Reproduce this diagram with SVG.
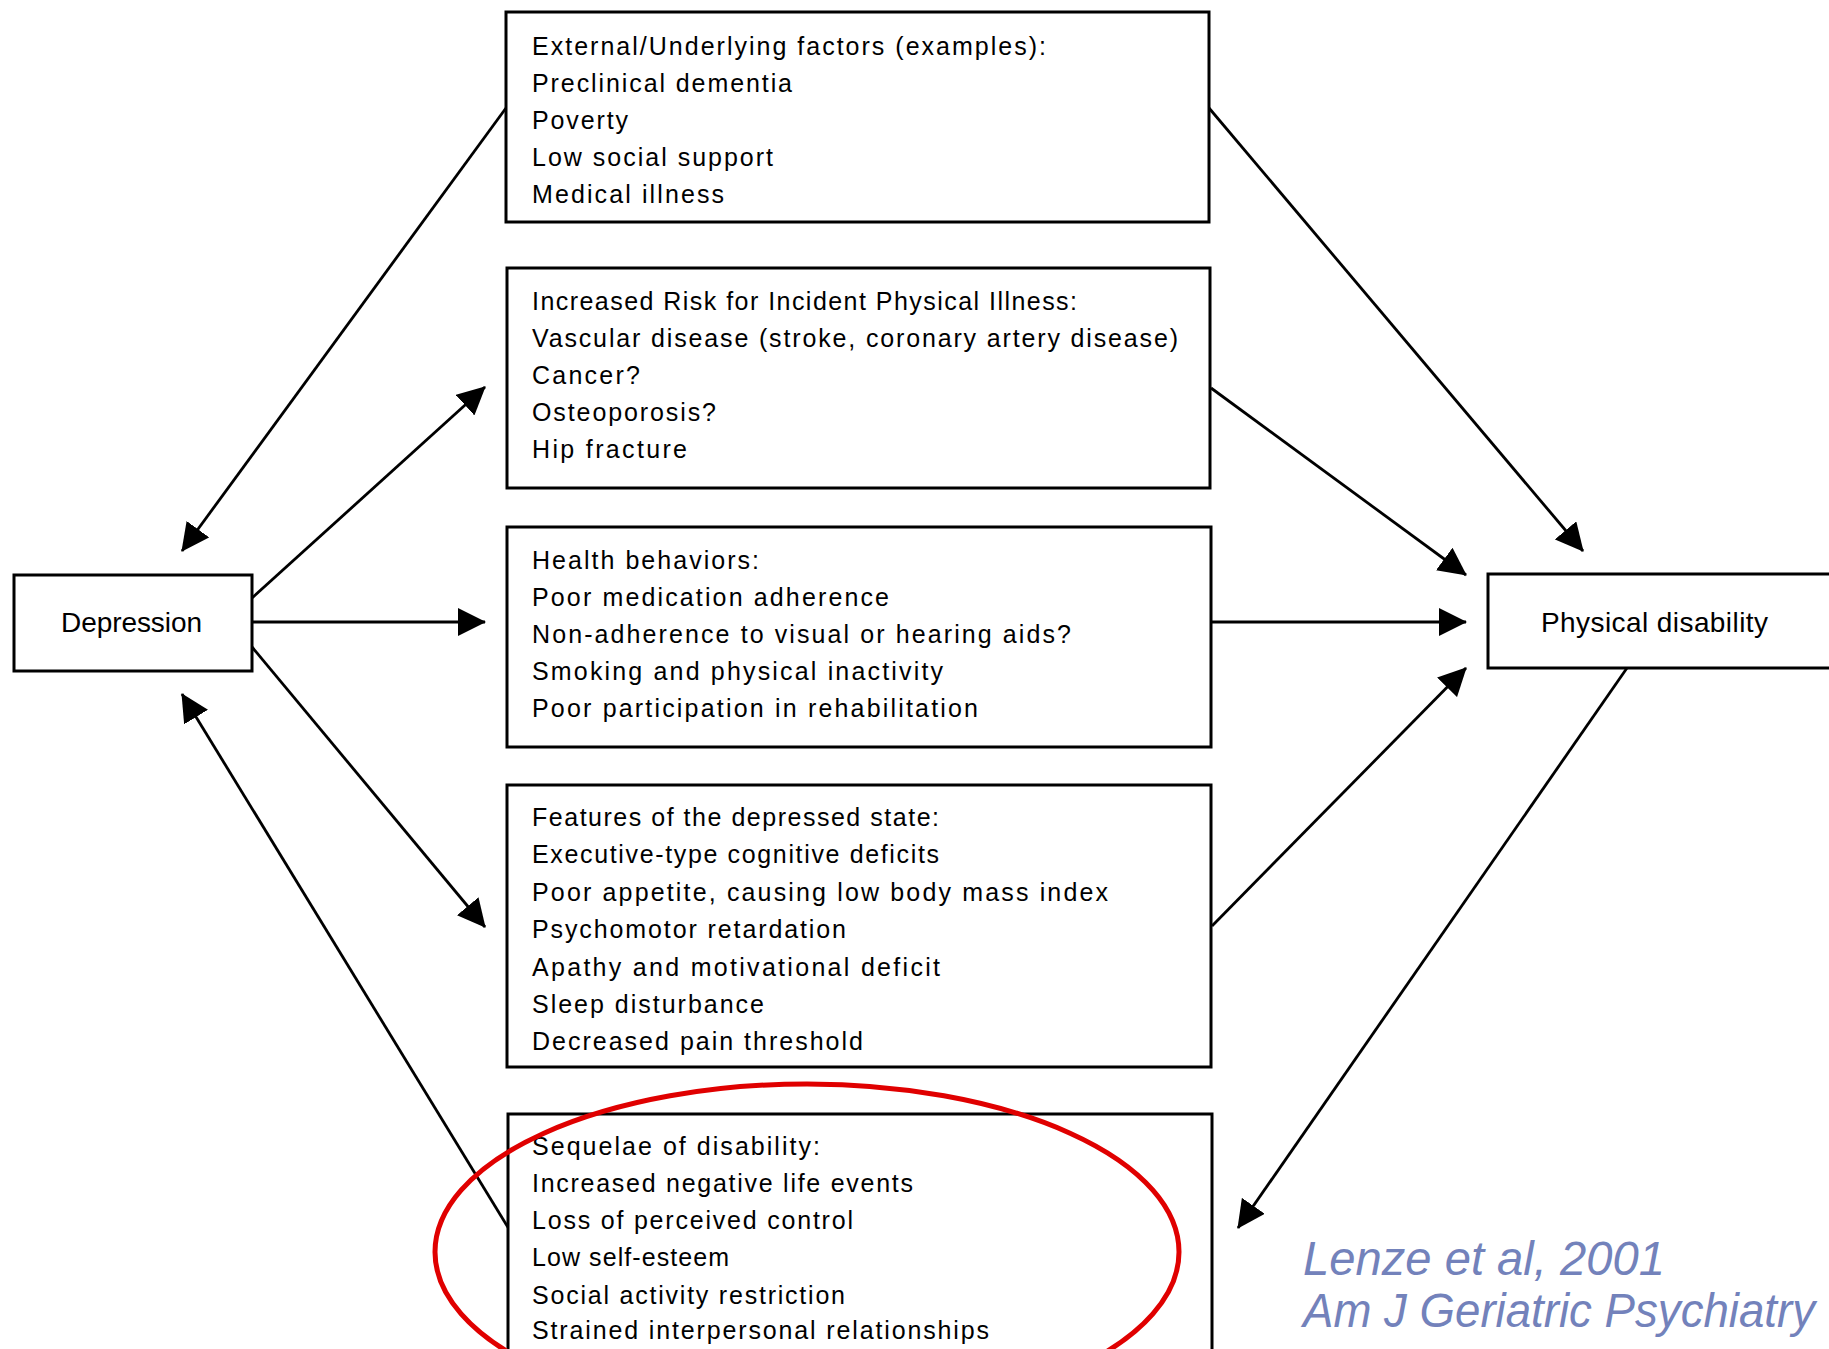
<svg xmlns="http://www.w3.org/2000/svg" width="1829" height="1349" viewBox="0 0 1829 1349">
<style>
.box{fill:#ffffff;stroke:#000;stroke-width:3}
.t{font-family:"Liberation Sans",Arial,sans-serif;font-size:25px;fill:#000}
.n{font-family:"Liberation Sans",Arial,sans-serif;font-size:28px;fill:#000}
.c{stroke:#000;stroke-width:2.8;fill:none;marker-end:url(#ah)}
.cite{font-family:"Liberation Sans",Arial,sans-serif;font-style:italic;font-size:48px;fill:#7382bb}
</style>
<defs>
<marker id="ah" viewBox="0 0 28 28" refX="27" refY="14" markerWidth="28" markerHeight="28" markerUnits="userSpaceOnUse" orient="auto">
<path d="M0,0 L28,14 L0,28 z" fill="#000"/>
</marker>
</defs>
<rect width="1829" height="1349" fill="#fff"/>
<g id="connectors">
<path class="c" d="M506,108 L182,551"/>
<path class="c" d="M252,598 L485,387"/>
<path class="c" d="M252,622 L485,622"/>
<path class="c" d="M252,647 L485,927"/>
<path class="c" d="M509,1229 L182,694"/>
<path class="c" d="M1209,108 L1583,551"/>
<path class="c" d="M1211,388 L1466,575"/>
<path class="c" d="M1211,622 L1466,622"/>
<path class="c" d="M1212,926 L1466,668"/>
<path class="c" d="M1627,668 L1238,1228"/>
</g>
<g id="depression">
<rect class="box" x="14" y="575" width="238" height="96"/>
<text class="n" x="61" y="632" textLength="141" lengthAdjust="spacing">Depression</text>
</g>
<g id="physical-disability">
<rect class="box" x="1488" y="574" width="360" height="94"/>
<text class="n" x="1541" y="632" textLength="227" lengthAdjust="spacing">Physical disability</text>
</g>
<g id="external-factors">
<rect class="box" x="506" y="12" width="703" height="210"/>
<text class="t" x="532" y="55" textLength="514" lengthAdjust="spacing">External/Underlying factors (examples):</text>
<text class="t" x="532" y="92" textLength="260" lengthAdjust="spacing">Preclinical dementia</text>
<text class="t" x="532" y="129" textLength="96" lengthAdjust="spacing">Poverty</text>
<text class="t" x="532" y="166" textLength="241" lengthAdjust="spacing">Low social support</text>
<text class="t" x="532" y="203" textLength="192" lengthAdjust="spacing">Medical illness</text>
</g>
<g id="physical-illness">
<rect class="box" x="507" y="268" width="703" height="220"/>
<text class="t" x="532" y="310" textLength="545" lengthAdjust="spacing">Increased Risk for Incident Physical Illness:</text>
<text class="t" x="532" y="347" textLength="646" lengthAdjust="spacing">Vascular disease (stroke, coronary artery disease)</text>
<text class="t" x="532" y="384" textLength="108" lengthAdjust="spacing">Cancer?</text>
<text class="t" x="532" y="421" textLength="184" lengthAdjust="spacing">Osteoporosis?</text>
<text class="t" x="532" y="458" textLength="155" lengthAdjust="spacing">Hip fracture</text>
</g>
<g id="health-behaviors">
<rect class="box" x="507" y="527" width="704" height="220"/>
<text class="t" x="532" y="569" textLength="227" lengthAdjust="spacing">Health behaviors:</text>
<text class="t" x="532" y="606" textLength="357" lengthAdjust="spacing">Poor medication adherence</text>
<text class="t" x="532" y="643" textLength="539" lengthAdjust="spacing">Non-adherence to visual or hearing aids?</text>
<text class="t" x="532" y="680" textLength="411" lengthAdjust="spacing">Smoking and physical inactivity</text>
<text class="t" x="532" y="717" textLength="446" lengthAdjust="spacing">Poor participation in rehabilitation</text>
</g>
<g id="depressed-state">
<rect class="box" x="507" y="785" width="704" height="282"/>
<text class="t" x="532" y="826" textLength="407" lengthAdjust="spacing">Features of the depressed state:</text>
<text class="t" x="532" y="863" textLength="407" lengthAdjust="spacing">Executive-type cognitive deficits</text>
<text class="t" x="532" y="901" textLength="576" lengthAdjust="spacing">Poor appetite, causing low body mass index</text>
<text class="t" x="532" y="938" textLength="314" lengthAdjust="spacing">Psychomotor retardation</text>
<text class="t" x="532" y="976" textLength="408" lengthAdjust="spacing">Apathy and motivational deficit</text>
<text class="t" x="532" y="1013" textLength="232" lengthAdjust="spacing">Sleep disturbance</text>
<text class="t" x="532" y="1050" textLength="331" lengthAdjust="spacing">Decreased pain threshold</text>
</g>
<g id="sequelae">
<rect class="box" x="508" y="1114" width="704" height="260"/>
<text class="t" x="532" y="1155" textLength="288" lengthAdjust="spacing">Sequelae of disability:</text>
<text class="t" x="532" y="1192" textLength="381" lengthAdjust="spacing">Increased negative life events</text>
<text class="t" x="532" y="1229" textLength="321" lengthAdjust="spacing">Loss of perceived control</text>
<text class="t" x="532" y="1266" textLength="197" lengthAdjust="spacing">Low self-esteem</text>
<text class="t" x="532" y="1304" textLength="313" lengthAdjust="spacing">Social activity restriction</text>
<text class="t" x="532" y="1339" textLength="457" lengthAdjust="spacing">Strained interpersonal relationships</text>
</g>
<ellipse id="highlight" cx="807" cy="1252" rx="372" ry="168" fill="none" stroke="#e00000" stroke-width="5"/>
<g id="citation">
<text class="cite" x="1303" y="1275" textLength="362" lengthAdjust="spacingAndGlyphs">Lenze et al, 2001</text>
<text class="cite" x="1303" y="1327" font-size="42" textLength="512" lengthAdjust="spacingAndGlyphs">Am J Geriatric Psychiatry</text>
</g>
</svg>
